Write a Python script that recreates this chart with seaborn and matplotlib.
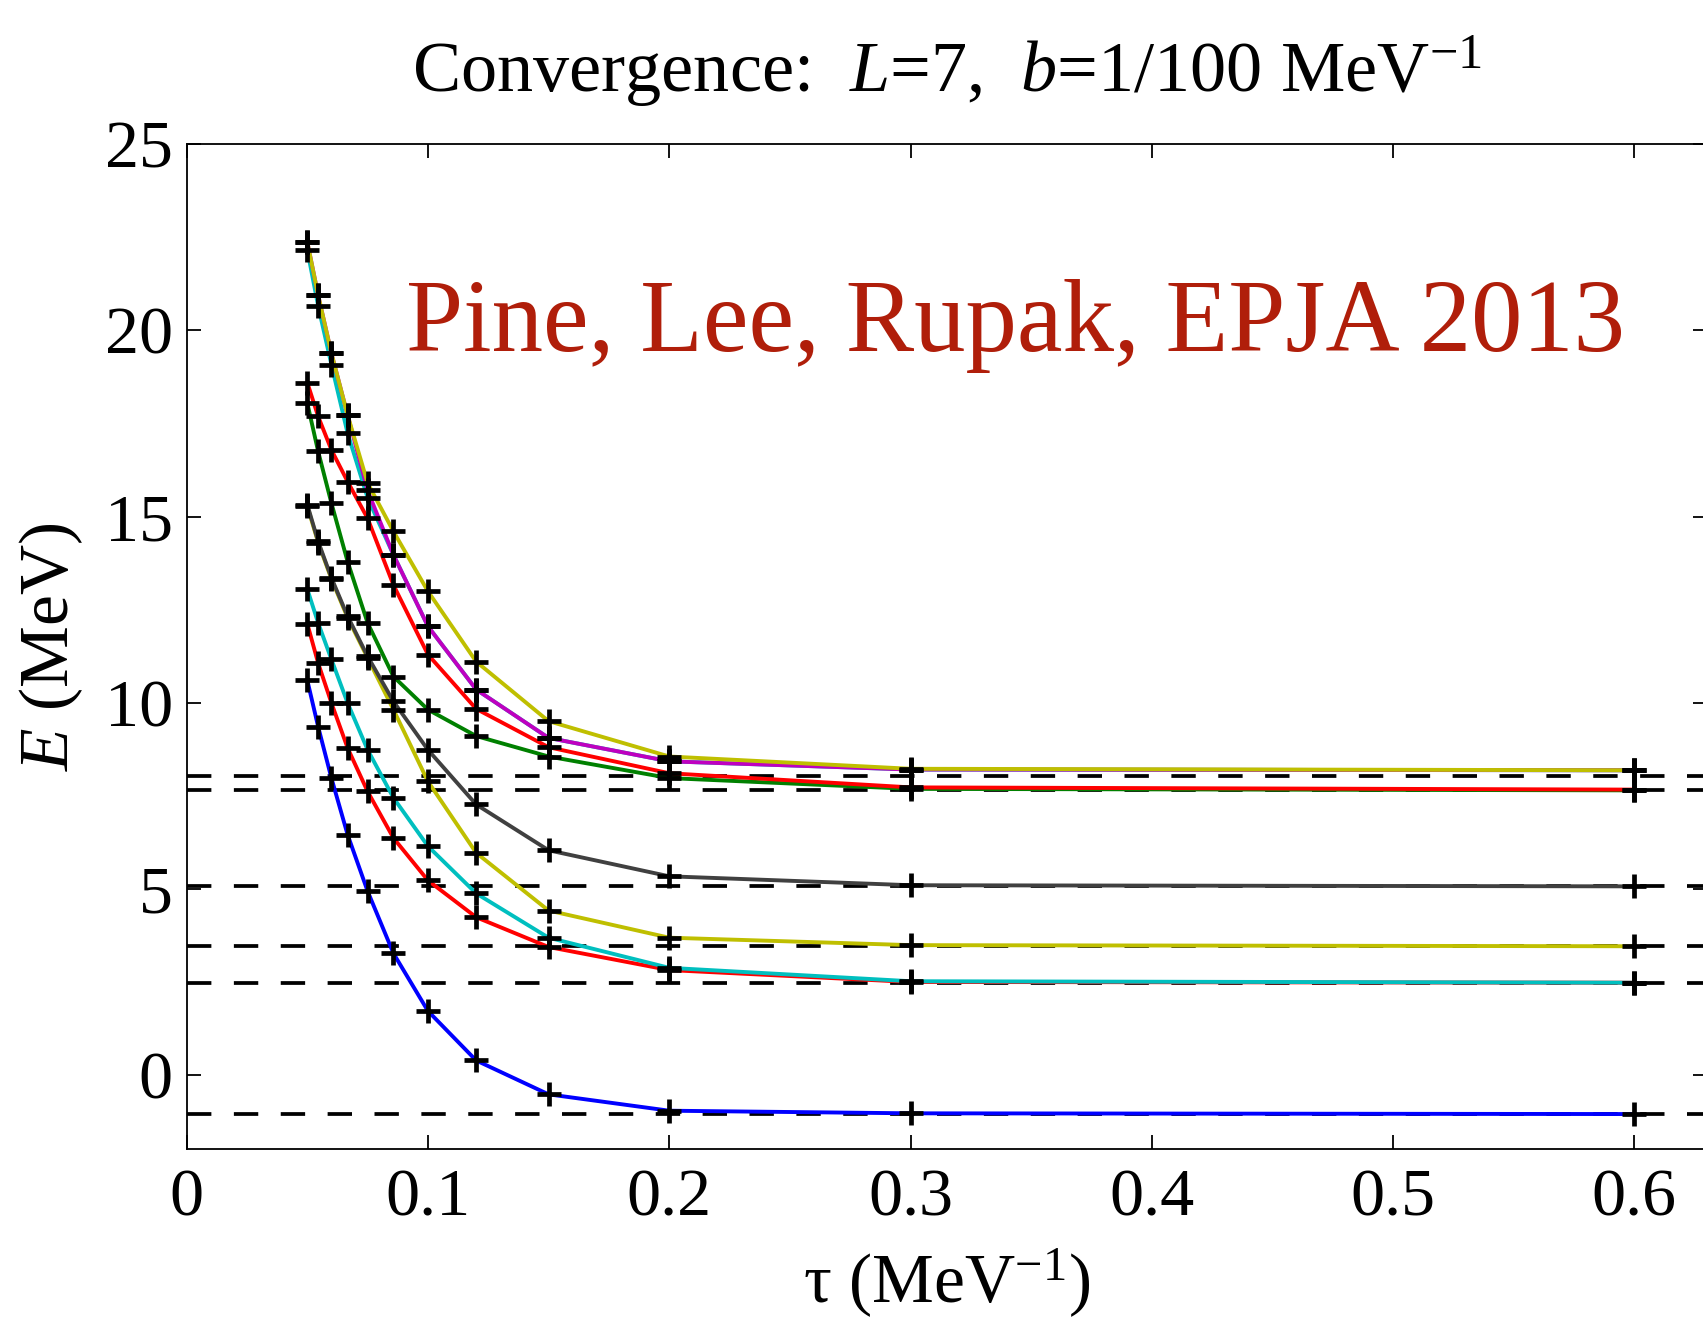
import numpy as np
import pandas as pd
import matplotlib
matplotlib.use("Agg")
import matplotlib.pyplot as plt
import seaborn as sns

# tau = 0.6/N, N = 12..1
tau = [0.05, 0.0545, 0.06, 0.0667, 0.075, 0.0857, 0.1, 0.12, 0.15, 0.2, 0.3, 0.6]

E_blue    = [10.60, 9.35, 7.97, 6.45, 4.93, 3.26, 1.71, 0.38, -0.53, -0.97, -1.04, -1.06]
E_red_lo  = [12.12, 11.06, 9.99, 8.78, 7.61, 6.36, 5.22, 4.23, 3.43, 2.81, 2.49, 2.47]
E_cyan_lo = [13.05, 12.14, 11.16, 9.99, 8.73, 7.44, 6.14, 4.87, 3.68, 2.87, 2.51, 2.47]
E_yel_lo  = [15.28, 14.30, 13.32, 12.28, 11.20, 9.81, 7.88, 5.96, 4.41, 3.68, 3.48, 3.45]
E_gray    = [15.32, 14.33, 13.35, 12.32, 11.24, 10.03, 8.73, 7.26, 6.03, 5.33, 5.09, 5.06]
E_green   = [18.05, 16.75, 15.36, 13.79, 12.14, 10.70, 9.81, 9.10, 8.55, 7.97, 7.68, 7.64]
E_red_hi  = [18.60, 17.69, 16.79, 15.94, 14.95, 13.16, 11.29, 9.83, 8.80, 8.10, 7.72, 7.66]
E_cyan_hi = [22.16, 20.66, 19.08, 17.24, 15.50, 13.97, 12.05, 10.35, 9.05, 8.42, 8.20, 8.18]
E_mag     = [22.38, 20.95, 19.39, 17.73, 15.70, 13.97, 12.05, 10.35, 9.05, 8.42, 8.20, 8.18]
E_yel_hi  = [22.38, 20.95, 19.39, 17.73, 15.90, 14.60, 12.99, 11.10, 9.50, 8.55, 8.22, 8.18]

E_exact = [8.02, 7.65, 5.06, 3.45, 2.47, -1.07]

curve_names = ["blue", "red_lo", "cyan_lo", "yel_lo", "gray", "green",
               "red_hi", "cyan_hi", "mag", "yel_hi"]
curve_values = [E_blue, E_red_lo, E_cyan_lo, E_yel_lo, E_gray, E_green,
                E_red_hi, E_cyan_hi, E_mag, E_yel_hi]
curve_colors = [(0, 0, 1), (1, 0, 0), (0, 0.75, 0.75), (0.75, 0.75, 0),
                (0.25, 0.25, 0.25), (0, 0.5, 0), (1, 0, 0), (0, 0.75, 0.75),
                (0.75, 0, 0.75), (0.75, 0.75, 0)]

sns.set_style("ticks")
plt.rcParams["font.family"] = ["Liberation Serif", "DejaVu Serif"]
plt.rcParams["mathtext.fontset"] = "custom"
plt.rcParams["mathtext.rm"] = "Liberation Serif"
plt.rcParams["mathtext.it"] = "Liberation Serif:italic"
plt.rcParams["mathtext.bf"] = "Liberation Serif:bold"
plt.rcParams["text.color"] = "black"
plt.rcParams["axes.labelcolor"] = "black"
plt.rcParams["xtick.color"] = "black"
plt.rcParams["ytick.color"] = "black"

fig = plt.figure(figsize=(17.03, 13.18), dpi=100)
ax = fig.add_axes([0.1096, 0.1282, 0.8926, 0.7622])

for e in E_exact:
    ax.axhline(e, color="k", lw=2.7, linestyle=(0, (6.5, 6.0)), zorder=1)

rows = []
for name, vals in zip(curve_names, curve_values):
    for t, v in zip(tau, vals):
        rows.append({"curve": name, "tau": t, "E": v})
df = pd.DataFrame(rows)

for name, col in zip(curve_names, curve_colors):
    sub = df[df["curve"] == name]
    sns.lineplot(data=sub, x="tau", y="E", color=col, lw=2.8, ax=ax,
                 sort=True, estimator=None, zorder=2)

sns.scatterplot(data=df, x="tau", y="E", marker="+", s=280, color="k",
                linewidth=3.4, ax=ax, zorder=3, legend=False)

ax.set_xlim(0, 0.63)
ax.set_ylim(-2, 25)
ax.set_xticks([0, 0.1, 0.2, 0.3, 0.4, 0.5, 0.6])
ax.set_xticklabels(["0", "0.1", "0.2", "0.3", "0.4", "0.5", "0.6"])
ax.set_yticks([0, 5, 10, 15, 20, 25])
ax.tick_params(direction="in", length=10, width=1.3, top=True, right=True,
               labelsize=49, colors="k")
ax.tick_params(axis="y", pad=10)
ax.tick_params(axis="x", pad=14)
for sp in ax.spines.values():
    sp.set_linewidth(1.3)
    sp.set_color("k")
    sp.set_visible(True)

ax.set_xlabel(r"τ (MeV$^{-1}$)", fontsize=50, labelpad=12, color="k")
ax.set_ylabel(r"$E$ (MeV)", fontsize=50, labelpad=14, color="k")
ax.set_title(r"Convergence:  $L$=7,  $b$=1/100 MeV$^{-1}$", fontsize=52,
             pad=38, color="k")

ax.text(0.091, 19.45, "Pine, Lee, Rupak, EPJA 2013", color="#B01E0A",
        fontsize=74, ha="left", va="baseline")

fig.savefig("out.png", dpi=100)
